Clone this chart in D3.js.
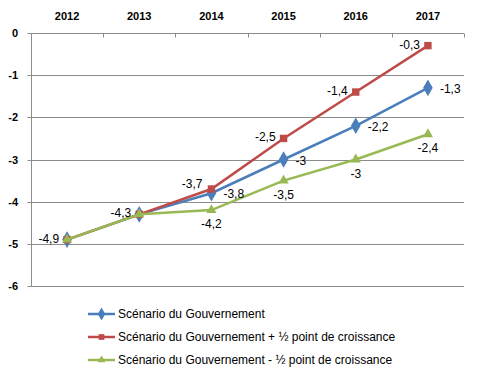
<!DOCTYPE html>
<html>
<head>
<meta charset="utf-8">
<script src="https://cdn.jsdelivr.net/npm/d3@7"></script>
<style>
body { margin: 0; background: #fff; }
text { font-family: "Liberation Sans", Arial, sans-serif; }
</style>
</head>
<body>
<div id="chart"></div>
<script>
// données
var years = ["2012", "2013", "2014", "2015", "2016", "2017"];
var gouv = [-4.9, -4.3, -3.8, -3.0, -2.2, -1.3];
var gouvPlus = [-4.9, -4.3, -3.7, -2.5, -1.4, -0.3];
var gouvMoins = [-4.9, -4.3, -4.2, -3.5, -3.0, -2.4];
var yTicks = [0, -1, -2, -3, -4, -5, -6];
var names = ["Scénario du Gouvernement",
             "Scénario du Gouvernement + ½ point de croissance",
             "Scénario du Gouvernement - ½ point de croissance"];
// où placer l'étiquette de chaque point (null = pas d'étiquette)
var labPosGouv = ["left", "left", "right", "right", "right", "right"];
var labPosPlus = [null, null, "upleft", "left", "left", "left"];
var labPosMoins = [null, null, "below", "below", "below", "below"];

var width = 480, height = 381;
var margin = {left: 31, right: 16, top: 33, bottom: 95};

var svg = d3.select("#chart").append("svg")
    .attr("width", width).attr("height", height);

var x = d3.scaleBand().domain(years)
    .range([margin.left, width - margin.right]);
var y = d3.scaleLinear().domain([-6, 0])
    .range([height - margin.bottom, margin.top]);

// grille
svg.append("g").selectAll("line")
    .data(yTicks).enter().append("line")
    .attr("x1", margin.left).attr("x2", width - margin.right)
    .attr("y1", function(d){ return Math.round(y(d)) + 0.5; })
    .attr("y2", function(d){ return Math.round(y(d)) + 0.5; })
    .attr("stroke", "#8c8c8c").attr("stroke-width", 1);

// axe gauche
var ly = Math.round(margin.left) + 0.5;
svg.append("line")
    .attr("x1", ly).attr("x2", ly)
    .attr("y1", y(0)).attr("y2", y(-6))
    .attr("stroke", "#8c8c8c");
svg.append("g").selectAll("line")
    .data(yTicks).enter().append("line")
    .attr("x1", ly - 4).attr("x2", ly)
    .attr("y1", function(d){ return Math.round(y(d)) + 0.5; })
    .attr("y2", function(d){ return Math.round(y(d)) + 0.5; })
    .attr("stroke", "#8c8c8c");
svg.append("g").selectAll("text")
    .data(yTicks).enter().append("text")
    .attr("x", 18).attr("y", function(d){ return y(d) + 4; })
    .attr("text-anchor", "end")
    .attr("font-size", "11px").attr("font-weight", "bold")
    .text(function(d){ return d; });

// axe du haut (catégories)
var topY = Math.round(y(0)) + 0.5;
var bounds = years.map(function(d){ return x(d); }).concat([x(years[years.length-1]) + x.bandwidth()]);
svg.append("g").selectAll("line")
    .data(bounds).enter().append("line")
    .attr("x1", function(d){ return Math.round(d) + 0.5; })
    .attr("x2", function(d){ return Math.round(d) + 0.5; })
    .attr("y1", topY).attr("y2", topY + 4)
    .attr("stroke", "#8c8c8c");
svg.append("g").selectAll("text")
    .data(years).enter().append("text")
    .attr("x", function(d){ return x(d) + x.bandwidth() / 2; })
    .attr("y", 20)
    .attr("text-anchor", "middle")
    .attr("font-size", "11px").attr("font-weight", "bold")
    .text(function(d){ return d; });

var series = [
    {name: names[0], values: gouv, pos: labPosGouv, color: "#4a7ebb", marker: d3.symbolDiamond, size: 80},
    {name: names[1], values: gouvPlus, pos: labPosPlus, color: "#be4b48", marker: d3.symbolSquare, size: 55},
    {name: names[2], values: gouvMoins, pos: labPosMoins, color: "#98b954", marker: d3.symbolTriangle, size: 45}
];

var line = d3.line()
    .x(function(d, i){ return x(years[i]) + x.bandwidth() / 2; })
    .y(function(d){ return y(d); });

series.forEach(function(s){
    svg.append("path")
        .attr("d", line(s.values))
        .attr("fill", "none")
        .attr("stroke", s.color)
        .attr("stroke-width", 2.5);
    svg.append("g").selectAll("path")
        .data(s.values).enter().append("path")
        .attr("transform", function(d, i){
            return "translate(" + (x(years[i]) + x.bandwidth() / 2) + "," + y(d) + ")";
        })
        .attr("d", d3.symbol().type(s.marker).size(s.size))
        .attr("fill", s.color);
});

// étiquettes
function fmt(v){ return String(v).replace(".", ","); }
series.forEach(function(s){
    s.values.forEach(function(v, i){
        var p = s.pos[i];
        if (!p) return;
        var cx = x(years[i]) + x.bandwidth() / 2, cy = y(v);
        var t = svg.append("text").attr("font-size", "12px").attr("fill", "#000").text(fmt(v));
        if (p == "left") {
            t.attr("x", cx - 8).attr("y", cy + 3).attr("text-anchor", "end");
        } else if (p == "upleft") {
            t.attr("x", cx - 9).attr("y", cy - 1).attr("text-anchor", "end");
        } else if (p == "right") {
            t.attr("x", cx + 12).attr("y", cy + 5).attr("text-anchor", "start");
        } else {
            t.attr("x", cx).attr("y", cy + 18).attr("text-anchor", "middle");
        }
    });
});

// légende
var legY = [314, 337, 360];
series.forEach(function(s, i){
    var g = svg.append("g").attr("transform", "translate(88," + legY[i] + ")");
    g.append("line").attr("x1", 0).attr("x2", 27).attr("y1", 0).attr("y2", 0)
        .attr("stroke", s.color).attr("stroke-width", 2.5);
    g.append("path").attr("transform", "translate(13.5,0)")
        .attr("d", d3.symbol().type(s.marker).size(s.size * 0.6))
        .attr("fill", s.color);
    g.append("text").attr("x", 30).attr("y", 4)
        .attr("font-size", "12px").text(s.name);
});
</script>
</body>
</html>
